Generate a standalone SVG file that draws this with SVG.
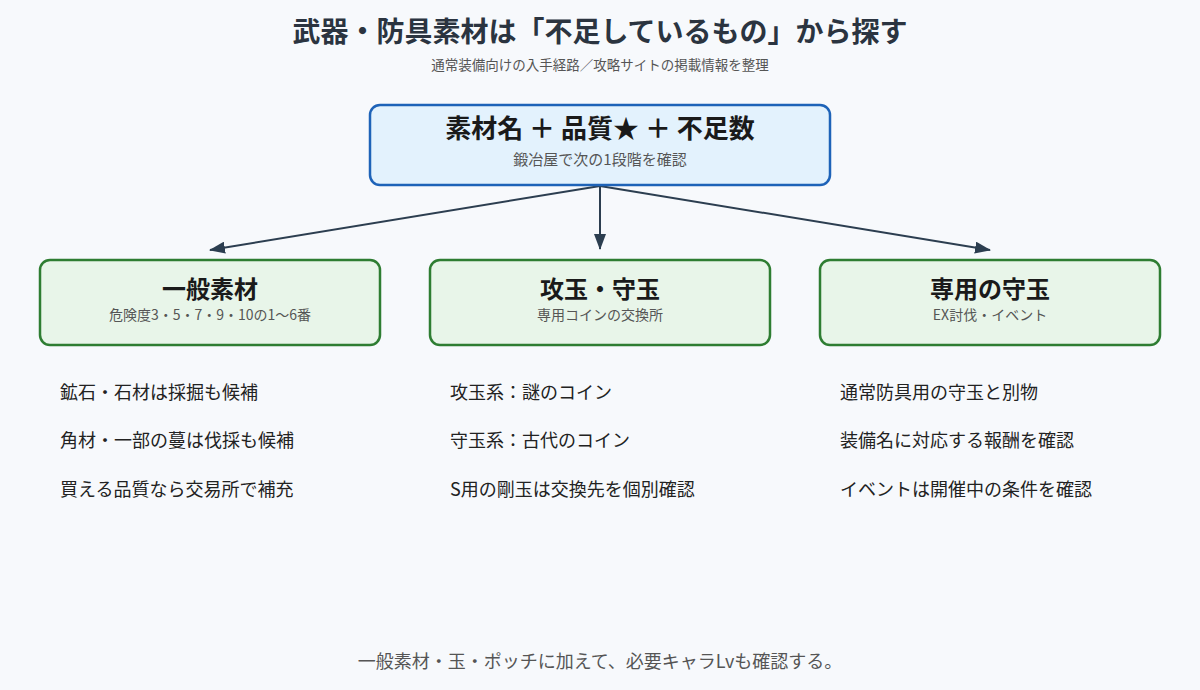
<svg xmlns="http://www.w3.org/2000/svg" width="1200" height="690" viewBox="0 0 1200 690">
<style>
text{font-family:"Noto Sans CJK JP","Noto Sans",sans-serif;text-anchor:middle}
.t{font-size:24px;font-weight:bold;fill:#1a1a1a}
.s{font-size:14px;fill:#555}
.b{font-size:18px;fill:#222;text-anchor:start}
.g{fill:#e8f5e9;stroke:#2e7d32;stroke-width:2.5}
.c{stroke:#2c3e50;stroke-width:2;fill:none;marker-end:url(#a)}
</style>
<defs><marker id="a" viewBox="0 0 16 12" refX="15" refY="6" markerWidth="16" markerHeight="12" orient="auto" markerUnits="userSpaceOnUse"><path d="M0,0L16,6L0,12z" fill="#2c3e50"/></marker></defs>
<rect width="1200" height="690" fill="#f7f9fc"/>
<text x="600" y="42" style="font-size:28px;font-weight:bold;fill:#2b3440">武器・防具素材は「不足しているもの」から探す</text>
<text x="600" y="70" style="font-size:13.5px;fill:#555">通常装備向けの入手経路／攻略サイトの掲載情報を整理</text>
<g id="connectors">
<path class="c" d="M600,186L210,250"/>
<path class="c" d="M600,186L600,249"/>
<path class="c" d="M600,186L990,250"/>
</g>
<g id="root"><rect x="370" y="105" width="460" height="80" rx="10" fill="#e3f2fd" stroke="#1e63b8" stroke-width="2.5"/>
<text x="600" y="138" class="t" style="font-size:26px">素材名 ＋ 品質★ ＋ 不足数</text>
<text x="600" y="165" class="s" style="font-size:15px">鍛冶屋で次の1段階を確認</text></g>
<g id="n1"><rect x="40" y="260" width="340" height="85" rx="10" class="g"/>
<text x="210" y="298" class="t">一般素材</text><text x="210" y="320" class="s">危険度3・5・7・9・10の1〜6番</text></g>
<g id="n2"><rect x="430" y="260" width="340" height="85" rx="10" class="g"/>
<text x="600" y="298" class="t">攻玉・守玉</text><text x="600" y="320" class="s">専用コインの交換所</text></g>
<g id="n3"><rect x="820" y="260" width="340" height="85" rx="10" class="g"/>
<text x="990" y="298" class="t">専用の守玉</text><text x="990" y="320" class="s">EX討伐・イベント</text></g>
<g id="list1"><text x="60" y="399" class="b">鉱石・石材は採掘も候補</text><text x="60" y="447" class="b">角材・一部の蔓は伐採も候補</text><text x="60" y="496" class="b">買える品質なら交易所で補充</text></g>
<g id="list2"><text x="450" y="399" class="b">攻玉系：謎のコイン</text><text x="450" y="447" class="b">守玉系：古代のコイン</text><text x="450" y="496" class="b">S用の剛玉は交換先を個別確認</text></g>
<g id="list3"><text x="840" y="399" class="b">通常防具用の守玉と別物</text><text x="840" y="447" class="b">装備名に対応する報酬を確認</text><text x="840" y="496" class="b">イベントは開催中の条件を確認</text></g>
<text x="600" y="668" style="font-size:18px;fill:#555">一般素材・玉・ポッチに加えて、必要キャラLvも確認する。</text>
</svg>
